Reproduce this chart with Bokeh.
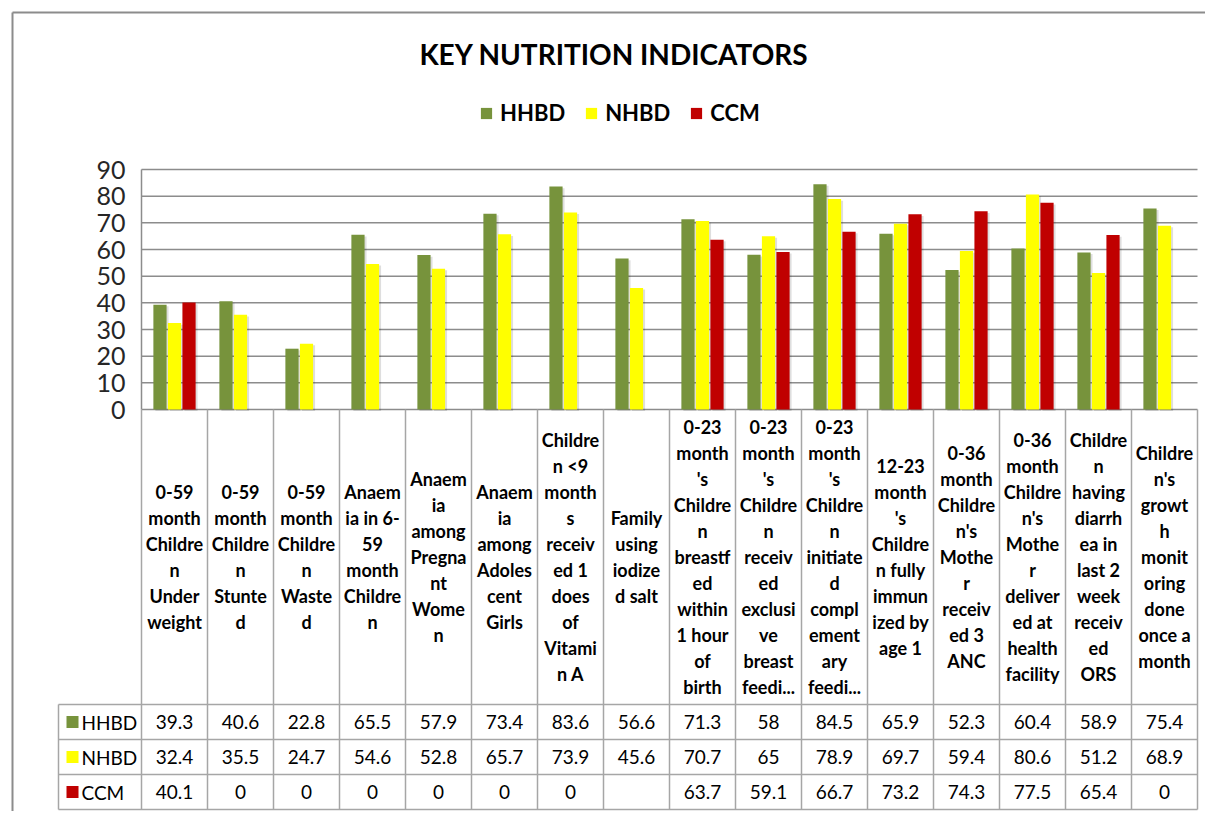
import math
from bokeh.plotting import figure
from bokeh.models import Range1d, Legend, LegendItem, ColumnDataSource
from bokeh.core.properties import value
from bokeh.embed import file_html
from bokeh.resources import INLINE

# ---------------- data ----------------
title_text = "KEY  NUTRITION INDICATORS"
categories = [
    "0-59\nmonth\nChildre\nn\nUnder\nweight",
    "0-59\nmonth\nChildre\nn\nStunte\nd",
    "0-59\nmonth\nChildre\nn\nWaste\nd",
    "Anaem\nia in 6-\n59\nmonth\nChildre\nn",
    "Anaem\nia\namong\nPregna\nnt\nWome\nn",
    "Anaem\nia\namong\nAdoles\ncent\nGirls",
    "Childre\nn <9\nmonth\ns\nreceiv\ned 1\ndoes\nof\nVitami\nn A",
    "Family\nusing\niodize\nd salt",
    "0-23\nmonth\n's\nChildre\nn\nbreastf\ned\nwithin\n1 hour\nof\nbirth",
    "0-23\nmonth\n's\nChildre\nn\nreceiv\ned\nexclusi\nve\nbreast\nfeedi...",
    "0-23\nmonth\n's\nChildre\nn\ninitiate\nd\ncompl\nement\nary\nfeedi...",
    "12-23\nmonth\n's\nChildre\nn fully\nimmun\nized by\nage 1",
    "0-36\nmonth\nChildre\nn's\nMothe\nr\nreceiv\ned 3\nANC",
    "0-36\nmonth\nChildre\nn's\nMothe\nr\ndeliver\ned at\nhealth\nfacility",
    "Childre\nn\nhaving\ndiarrh\nea in\nlast 2\nweek\nreceiv\ned\nORS",
    "Childre\nn's\ngrowt\nh\nmonit\noring\ndone\nonce a\nmonth",
]
series_names = ["HHBD", "NHBD", "CCM"]
hhbd = [39.3, 40.6, 22.8, 65.5, 57.9, 73.4, 83.6, 56.6, 71.3, 58, 84.5, 65.9, 52.3, 60.4, 58.9, 75.4]
nhbd = [32.4, 35.5, 24.7, 54.6, 52.8, 65.7, 73.9, 45.6, 70.7, 65, 78.9, 69.7, 59.4, 80.6, 51.2, 68.9]
ccm = [40.1, 0, 0, 0, 0, 0, 0, None, 63.7, 59.1, 66.7, 73.2, 74.3, 77.5, 65.4, 0]
series_colors = ["#77933C", "#FFFF00", "#C00000"]
y_ticks = [0, 10, 20, 30, 40, 50, 60, 70, 80, 90]

# ---------------- layout (image pixels) ----------------
W, H = 1205, 811
OFF = 0
PLOT_LEFT = 141
CELL = 66
ZERO_Y = 409
PX_PER_UNIT = 240 / 90
FONT = "Lato"

def dx(ix):
    return (ix - PLOT_LEFT) / CELL

def dy(iy):
    return (ZERO_Y - iy) / PX_PER_UNIT

n = len(categories)
p = figure(width=W, height=H, output_backend="svg", toolbar_location=None,
           x_range=Range1d(dx(OFF), dx(OFF + W)), y_range=Range1d(dy(OFF + H), dy(OFF)),
           x_axis_location=None, y_axis_location=None, min_border=0)
p.grid.visible = False
p.outline_line_color = None
p.background_fill_color = "white"
p.border_fill_color = "white"

# outer chart border
p.segment(x0=[dx(12), dx(12)], y0=[dy(12), dy(12)], x1=[dx(OFF + W + 5), dx(12)],
          y1=[dy(12), dy(OFF + H + 5)], line_color="#8C8C8C", line_width=2)

# gridlines & value axis line
grid_col = "#8C8C8C"
p.segment(x0=[0] * len(y_ticks), x1=[n] * len(y_ticks), y0=y_ticks, y1=y_ticks,
          line_color=grid_col, line_width=1.5)
p.segment(x0=[0], x1=[0], y0=[0], y1=[max(y_ticks)], line_color=grid_col, line_width=1.5)

# y tick labels
p.text(x=[dx(125)] * len(y_ticks), y=y_ticks, text=[str(t) for t in y_ticks],
       text_align="right", text_baseline="middle", text_font=value(FONT),
       text_font_size="25px", text_color="#262626")

# bars
offsets = [-0.22, 0.0, 0.22]
bar_w = 0.2
all_series = [hhbd, nhbd, ccm]
renderers = []
for s, vals in enumerate(all_series):
    xs = [i + 0.5 + offsets[s] for i in range(n)]
    tops = [float("nan") if v is None else v for v in vals]
    sh_tops = [float("nan") if v is None or v == 0 else v - 0.6 for v in vals]
    p.vbar(x=[x + 0.03 for x in xs], top=sh_tops, bottom=-0.6, width=bar_w,
           fill_color="#000000", fill_alpha=0.13, line_color=None)
    r = p.vbar(x=xs, top=tops, bottom=0, width=bar_w, fill_color=series_colors[s],
               line_color=None)
    renderers.append(r)

legend = Legend(items=[LegendItem(label=series_names[k], renderers=[renderers[k]]) for k in range(3)],
                orientation="horizontal", location=(479, H - 126), glyph_width=14, glyph_height=14,
                label_standoff=7, spacing=19, padding=0, margin=0,
                label_text_font=FONT, label_text_font_style="bold", label_text_font_size="22px",
                label_text_color="#000000", border_line_color=None, background_fill_alpha=0)
p.add_layout(legend)

# title
p.text(x=[dx(617)], y=[dy(53)], text=[title_text], text_align="center", text_baseline="middle",
       text_font=value(FONT), text_font_style="bold", text_font_size="28px", text_color="#000000")

# ---------------- data table ----------------
line_col = "#A6A6A6"
TABLE_TOP = 704
ROW_H = 35
rows_y = [TABLE_TOP + k * ROW_H for k in range(4)]
KEY_LEFT = 58
# vertical separators
p.segment(x0=list(range(n + 1)), x1=list(range(n + 1)), y0=[0] * (n + 1),
          y1=[dy(rows_y[-1])] * (n + 1), line_color=line_col, line_width=1.5)
p.segment(x0=[dx(KEY_LEFT)], x1=[dx(KEY_LEFT)], y0=[dy(rows_y[0])], y1=[dy(rows_y[-1])],
          line_color=line_col, line_width=1.5)
# horizontal separators
p.segment(x0=[dx(KEY_LEFT)] * 4, x1=[n] * 4, y0=[dy(y) for y in rows_y], y1=[dy(y) for y in rows_y],
          line_color=line_col, line_width=1.5)

# category labels
LINE_H = 26
label_center = (ZERO_Y + TABLE_TOP) / 2
lx, ly, lt = [], [], []
for i, cat in enumerate(categories):
    lines = cat.split("\n")
    m = len(lines)
    for k, t in enumerate(lines):
        lx.append(i + 0.5)
        ly.append(dy(label_center + (k - (m - 1) / 2) * LINE_H))
        lt.append(t)
p.text(x=lx, y=ly, text=lt, text_align="center", text_baseline="middle",
       text_font=value(FONT), text_font_style="bold", text_font_size="18px", text_color="#000000")

# values
vx, vy, vt = [], [], []
for s, vals in enumerate(all_series):
    cy = dy(rows_y[s] + ROW_H / 2)
    for i, v in enumerate(vals):
        vx.append(i + 0.5)
        vy.append(cy)
        vt.append("" if v is None else f"{v:g}")
p.text(x=vx, y=vy, text=vt, text_align="center", text_baseline="middle",
       text_font=value(FONT), text_font_size="19px", text_color="#000000")

# row keys
key_y = [dy(rows_y[s] + ROW_H / 2) for s in range(3)]
p.scatter(x=[dx(72)] * 3, y=key_y, marker="square", size=12, fill_color=series_colors,
          line_color=None)
p.text(x=[dx(81)] * 3, y=key_y, text=series_names, text_align="left", text_baseline="middle",
       text_font=value(FONT), text_font_size="19px", text_color="#000000")

open("out.html", "w").write(file_html(p, INLINE))
